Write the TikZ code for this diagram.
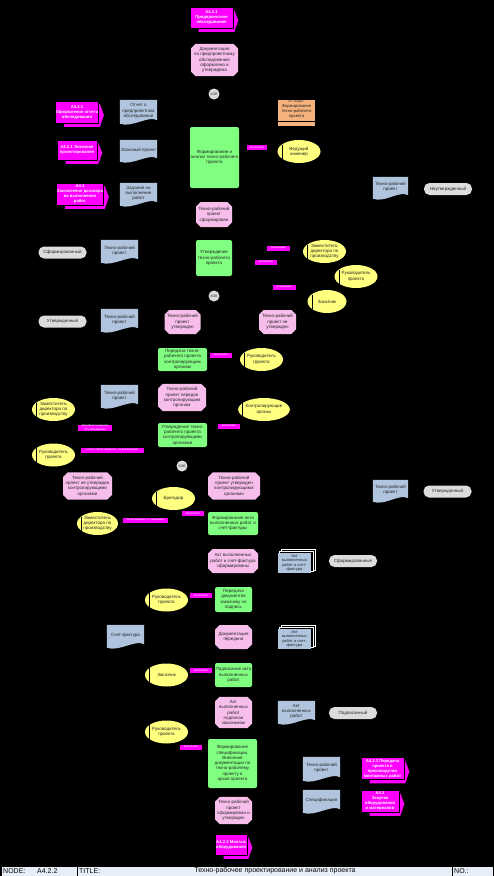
\documentclass[tikz,border=0pt]{standalone}
\usepackage{fontspec}
\setmainfont{Liberation Sans}
\usetikzlibrary{arrows.meta,positioning,shapes.geometric,shapes.misc,backgrounds}

\definecolor{pimag}{HTML}{FF00FF}
\definecolor{evpink}{HTML}{F7BDEB}
\definecolor{fngreen}{HTML}{80FF80}
\definecolor{docblue}{HTML}{B0C4DE}
\definecolor{rolyel}{HTML}{FFFF80}
\definecolor{stgrey}{HTML}{DCDCDC}
\definecolor{orgor}{HTML}{F5B27C}
\definecolor{footbg}{HTML}{E8EEF8}

\begin{document}
\begin{tikzpicture}[
  x=1pt, y=-1pt,
  font=\fontsize{4.5}{5.3}\selectfont,
  text=black!85,
  sz/.style 2 args={minimum width=#1pt, minimum height=#2pt},
  fn/.style={rectangle, rounded corners=2pt, fill=fngreen, align=center, inner sep=0.5pt},
  ev/.style={chamfered rectangle, chamfered rectangle xsep=1.6pt,
    chamfered rectangle ysep=3pt, fill=evpink, align=center, inner sep=0.5pt},
  doc/.style={rectangle, align=center, inner sep=0.5pt, minimum width=37pt},
  mdoc/.style={rectangle, fill=docblue, align=center, inner sep=0.3pt, sz={33}{20},
    font=\fontsize{4}{4.5}\selectfont},
  role/.style={ellipse, fill=rolyel, align=center, inner sep=0pt, sz={43}{23}},
  stat/.style={rectangle, rounded corners=5.5pt, fill=stgrey, align=center,
    inner sep=0.5pt, sz={48}{12}},
  pif/.style={rectangle, fill=pimag, draw=black, line width=0.6pt, text=white,
    align=center, inner sep=0.5pt, font=\fontsize{4.2}{5}\selectfont\bfseries},
  org/.style={rectangle, fill=orgor, align=center, inner sep=0.3pt,
    font=\fontsize{4.2}{4.9}\selectfont,
    path picture={\draw[black, line width=0.7pt]
      ([yshift=4.5pt]path picture bounding box.south west) --
      ([yshift=4.5pt]path picture bounding box.south east);}},
  xor/.style={circle, fill=stgrey, inner sep=0pt, minimum size=11pt,
    font=\fontsize{3.4}{4}\selectfont},
  lbl/.style={rectangle, fill=pimag, text=white, inner sep=0.3pt, align=center,
    minimum height=5pt, font=\fontsize{2.9}{3.4}\selectfont},
  arr/.style={-{Latex[length=3pt]}, thin, black},
  lnk/.style={thin, black}
]
  \path[use as bounding box] (0,0) rectangle (494,876);

  % main flow
  \node[pif, sz={43}{21}] (pi1) at (211.5,17.5) {А4.2.1\\Предпроектное\\обследование};
  \node[ev, sz={47}{30}] (ev1) at (214.5,60) {Документация\\по предпроектному\\обследованию\\оформлена и\\утверждена};
  \node[xor] (x1) at (214,94) {XOR};
  \node[fn, sz={49}{61}] (fn1) at (214.5,157.5) {Формирование и\\анализ техно-рабочего\\проекта};

  % inputs of fn1
  \node[pif, sz={40}{22}] (pil1) at (77,112) {А4.2.1\\Оформление отчета\\обследования};
  \node[pif, sz={40}{20}] (pil2) at (77,150) {А4.2.1 Эскизное\\проектирование};
  \node[pif, sz={46}{22}] (pil3) at (80,194) {А4.1\\Заключение договора\\на выполнение\\работ};
  \node[doc, minimum height=22pt] (doc1) at (138.5,111) {Отчет о\\предпроектном\\обследовании};
  \node[doc, minimum height=20pt] (doc2) at (138.5,150) {Эскизный проект};
  \node[doc, minimum height=21pt] (doc3) at (138.5,193.5) {Задание на\\выполнение\\работ};
  \node[org, sz={37}{26}] (org1) at (296.5,113) {{\fontsize{3.4}{4}\selectfont ИТ-отдел.}\\Формирование\\техно-рабочего\\проекта\\[3pt]};
  \node[role] (r1) at (299,151.5) {Ведущий\\инженер};
  \node[lbl, minimum width=20pt] (l1) at (257,147.5) {выполняет};
  \node[doc, minimum width=35pt, minimum height=20pt] (doc4) at (390.5,187) {Техно-рабочий\\проект};
  \node[stat] (st1) at (448,189) {Неутвержденный};

  % approval
  \node[ev, sz={36}{25}] (ev2) at (214,214.5) {Техно-рабочий\\проект\\сформирован};
  \node[stat] (st2) at (62.5,252.5) {Сформированный};
  \node[doc, minimum height=21pt] (doc5) at (119.5,250.5) {Техно-рабочий\\проект};
  \node[fn, sz={36}{36}] (fn2) at (214,258) {Утверждение\\техно-рабочего\\проекта};
  \node[role] (r2) at (324.5,251.5) {Заместитель\\директора по\\производству};
  \node[role] (r3) at (356,276.5) {Руководитель\\проекта};
  \node[role, sz={39}{23}] (r4) at (327,301.5) {Заказчик};
  \node[lbl, minimum width=23pt] (l2) at (278.5,248) {утверждает};
  \node[lbl, minimum width=22pt] (l3) at (266,262) {выполняет};
  \node[lbl, minimum width=23pt] (l4) at (284.5,287) {утверждает};
  \node[xor] (x2) at (214,296) {XOR};
  \node[stat] (st3) at (62.5,321.5) {Утвержденный};
  \node[doc, minimum height=21pt] (doc6) at (119.5,319.5) {Техно-рабочий\\проект};
  \node[ev, sz={36}{24}] (ev3) at (182.5,322) {Техно-рабочий\\проект\\утвержден};
  \node[ev, sz={37}{24}] (ev4) at (277.5,322) {Техно-рабочий\\проект не\\утвержден};

  % control bodies
  \node[fn, sz={49}{23}] (fn3) at (182.5,359.5) {Передача техно-\\рабочего проекта\\контролирующим\\органам};
  \node[role] (r5) at (261.5,359.5) {Руководитель\\проекта};
  \node[lbl, minimum width=22pt] (l5) at (221,355) {выполняет};
  \node[doc, minimum height=21pt] (doc7) at (119.5,395.5) {Техно-рабочий\\проект};
  \node[ev, sz={48}{25}] (ev5) at (182,397.5) {Техно-рабочий\\проект передан\\контролирующим\\органам};
  \node[role, sz={38}{23}] (r6) at (264,409.5) {Контролирующие\\органы};
  \node[role] (r7) at (53.5,409.5) {Заместитель\\директора по\\производству};
  \node[lbl, minimum width=34pt] (l6) at (95,428) {принимает решение\\об утверждении};
  \node[fn, sz={49}{24}] (fn4) at (182.5,435) {Утверждение техно-\\рабочего проекта\\контролирующими\\органами};
  \node[lbl, minimum width=22pt] (l7) at (229,426) {выполняет};
  \node[role] (r8) at (53.5,455) {Руководитель\\проекта};
  \node[lbl, minimum width=63pt] (l8) at (112.5,450) {несет ответственность за выполнение};
  \node[xor] (x3) at (182,466) {XOR};
  \node[ev, sz={49}{24}] (ev6) at (87.5,486) {Техно-рабочий\\проект не утвержден\\контролирующими\\органами};
  \node[ev, sz={52}{24}] (ev7) at (234,486) {Техно-рабочий\\проект утвержден\\контролирующими\\органами};
  \node[doc, minimum width=35pt, minimum height=20pt] (doc8) at (390.5,490) {Техно-рабочий\\проект};
  \node[stat] (st4) at (447.5,491.5) {Утвержденный};

  % acts and invoices
  \node[role] (r9) at (173.5,498.5) {Бригадир};
  \node[lbl, minimum width=22pt] (l9) at (193,513.5) {выполняет};
  \node[fn, sz={50}{23}] (fn5) at (233,523.5) {Формирование акта\\выполненных работ и\\счет-фактуры};
  \node[role, sz={41}{23}] (r10) at (97.5,523.5) {Заместитель\\директора по\\производству};
  \node[lbl, minimum width=45pt] (l10) at (145.5,520) {согласовывает и утверждает};
  \node[ev, sz={50}{24}] (ev8) at (233,561) {Акт выполненных\\работ и счет-фактура\\сформированы};
  \node[mdoc] (md1) at (294.5,563) {Акт\\выполненных\\работ и счет-\\фактура};
  \node[stat] (st5) at (353,561) {Сформированные};
  \node[role] (r11) at (166.5,600) {Руководитель\\проекта};
  \node[lbl, minimum width=22pt] (l11) at (201,595.5) {выполняет};
  \node[fn, sz={37}{25}] (fn6) at (233.5,599.5) {Передача\\документов\\заказчику на\\подпись};
  \node[doc, minimum height=21pt] (doc9) at (125.5,635.5) {Счет-фактура};
  \node[ev, sz={37}{24}] (ev9) at (233.5,637) {Документация\\передана};
  \node[mdoc] (md2) at (294.5,639) {Акт\\выполненных\\работ и счет-\\фактура};
  \node[role] (r12) at (166.5,675) {Заказчик};
  \node[lbl, minimum width=22pt] (l12) at (201,670.5) {выполняет};
  \node[fn, sz={37}{24}] (fn7) at (233.5,675) {Подписание акта\\выполненных\\работ};
  \node[ev, sz={37}{25}] (ev10) at (233.5,712.5) {Акт\\выполненных\\работ\\подписан\\заказчиком};
  \node[doc, minimum height=21pt] (doc10) at (296.5,711.5) {Акт\\выполненных\\работ};
  \node[stat] (st6) at (353,713) {Подписанный};

  % archive
  \node[role] (r13) at (166.5,732) {Руководитель\\проекта};
  \node[lbl, minimum width=22pt] (l13) at (191,747) {выполняет};
  \node[fn, sz={49}{49}] (fn8) at (232.5,763.5) {Формирование\\спецификации.\\Внесение\\документации по\\техно-рабочему\\проекту в\\архив проекта};
  \node[doc, minimum height=22pt] (doc11) at (321.5,768) {Техно-рабочий\\проект};
  \node[doc, minimum height=21pt] (doc12) at (321.5,800.5) {Спецификация};
  \node[pif, sz={43}{22}] (pir1) at (382.5,768.5) {А4.2.3 Передача\\проекта в\\производство\\монтажных работ};
  \node[pif, sz={38}{22}] (pir2) at (380,801) {А4.3\\Закупка\\оборудования\\и материалов};
  \node[ev, sz={37}{25}] (ev11) at (233.5,810.5) {Техно-рабочий\\проект\\сформирован и\\утвержден};
  \node[pif, sz={32}{21}] (pib) at (231,844.5) {А4.2.3 Монтаж\\оборудования};

  % role marks
  \foreach \r in {r1,r2,r3,r4,r5,r6,r7,r8,r9,r10,r11,r12,r13}
    \draw[black, line width=0.5pt] ([xshift=4.5pt,yshift=7pt]\r.west) -- ([xshift=4.5pt,yshift=-7pt]\r.west);

  \begin{scope}[on background layer]
    \fill[black] (0,0) rectangle (494,876);
    % connectors
    \draw[arr] (pi1) -- (ev1);
    \draw[arr] (ev1) -- (x1);
    \draw[arr] (x1) -- (fn1);
    \draw[arr] (fn1) -- (ev2);
    \draw[arr] (ev2) -- (fn2);
    \draw[arr] (fn2) -- (x2);
    \draw[arr] (x2) -- (ev3);
    \draw[arr] (x2) -- (ev4);
    \draw[arr] (ev3) -- (fn3);
    \draw[arr] (fn3) -- (ev5);
    \draw[arr] (ev5) -- (fn4);
    \draw[arr] (fn4) -- (x3);
    \draw[arr] (x3) -- (ev6);
    \draw[arr] (x3) -- (ev7);
    \draw[arr] (ev7) -- (fn5);
    \draw[arr] (fn5) -- (ev8);
    \draw[arr] (ev8) -- (fn6);
    \draw[arr] (fn6) -- (ev9);
    \draw[arr] (ev9) -- (fn7);
    \draw[arr] (fn7) -- (ev10);
    \draw[arr] (ev10) -- (fn8);
    \draw[arr] (fn8) -- (ev11);
    \draw[arr] (ev11) -- (pib);
    \draw[arr] (pil1) -- (doc1);
    \draw[arr] (pil2) -- (doc2);
    \draw[arr] (pil3) -- (doc3);
    \draw[arr] (doc1) -- (fn1);
    \draw[arr] (doc2) -- (fn1);
    \draw[arr] (doc3) -- (fn1);
    \draw[lnk] (org1) -- (fn1);
    \draw[lnk] (r1) -- (l1) -- (fn1);
    \draw[arr] (fn1) -- (doc4);
    \draw[lnk] (doc4) -- (st1);
    \draw[lnk] (st2) -- (doc5);
    \draw[arr] (doc5) -- (fn2);
    \draw[lnk] (r2) -- (fn2);
    \draw[lnk] (r3) -- (fn2);
    \draw[lnk] (r4) -- (fn2);
    \draw[lnk] (st3) -- (doc6);
    \draw[arr] (ev3) -- (doc6);
    \draw[lnk] (r5) -- (fn3);
    \draw[arr] (doc7) -- (ev5);
    \draw[lnk] (r6) -- (fn4);
    \draw[lnk] (r7) -- (fn4);
    \draw[lnk] (r8) -- (fn4);
    \draw[lnk] (doc8) -- (st4);
    \draw[lnk] (r9) -- (fn5);
    \draw[lnk] (r10) -- (fn5);
    \draw[arr] (fn5) -- (md1);
    \draw[lnk] (md1) -- (st5);
    \draw[lnk] (r11) -- (fn6);
    \draw[arr] (doc9) -- (fn6);
    \draw[arr] (md2) -- (fn6);
    \draw[lnk] (r12) -- (fn7);
    \draw[arr] (fn7) -- (doc10);
    \draw[lnk] (doc10) -- (st6);
    \draw[lnk] (r13) -- (fn8);
    \draw[arr] (fn8) -- (doc11);
    \draw[arr] (fn8) -- (doc12);
    \draw[arr] (doc11) -- (pir1);
    \draw[arr] (doc12) -- (pir2);
    % document sheets
    \foreach \d in {doc1,doc2,doc3,doc4,doc5,doc6,doc7,doc8,doc9,doc10,doc11,doc12}
      \fill[docblue] (\d.north west) -- (\d.north east) -- ([yshift=2pt]\d.south east)
        .. controls ([xshift=-9pt,yshift=7pt]\d.south east) and ([xshift=12pt,yshift=-6pt]\d.south west)
        .. ([yshift=-1.5pt]\d.south west) -- cycle;
    % stacked sheets
    \foreach \d in {md1,md2} {
      \draw[white, fill=black, line width=0.4pt] ([shift={(3.5pt,3.5pt)}]\d.south west) rectangle ([shift={(3.5pt,3.5pt)}]\d.north east);
      \draw[white, fill=black, line width=0.4pt] ([shift={(1.7pt,1.7pt)}]\d.south west) rectangle ([shift={(1.7pt,1.7pt)}]\d.north east);
    }
    % interface shadows
    \foreach \p in {pi1,pil1,pil2,pil3,pir1,pir2,pib}
      \fill[pimag] ([shift={(9pt,-3.5pt)}]\p.north west) -- ([shift={(1pt,-3.5pt)}]\p.north east)
        -- ([shift={(5pt,-3pt)}]\p.east) -- ([shift={(1pt,-3.5pt)}]\p.south east)
        -- ([shift={(9pt,-3.5pt)}]\p.south west) -- cycle;
  \end{scope}

  % footer
  \begin{scope}[font=\fontsize{7}{8}\selectfont, text=black]
    \fill[footbg] (2,866.5) rectangle (492.5,875.5);
    \draw[black, line width=0.8pt] (77.5,866.5) -- (77.5,875.5);
    \draw[black, line width=0.8pt] (452.5,866.5) -- (452.5,875.5);
    \node[anchor=west, inner sep=0pt] (fnode) at (3,871) {NODE:};
    \node[anchor=west, inner sep=0pt] (fnum) at (37,871) {А4.2.2};
    \node[anchor=west, inner sep=0pt] (ftitle) at (79,871) {TITLE:};
    \node[inner sep=0pt] (ftext) at (275,871) {Техно-рабочее проектирование и анализ проекта};
    \node[anchor=west, inner sep=0pt] (fno) at (454,871) {NO.:};
  \end{scope}
\end{tikzpicture}
\end{document}
